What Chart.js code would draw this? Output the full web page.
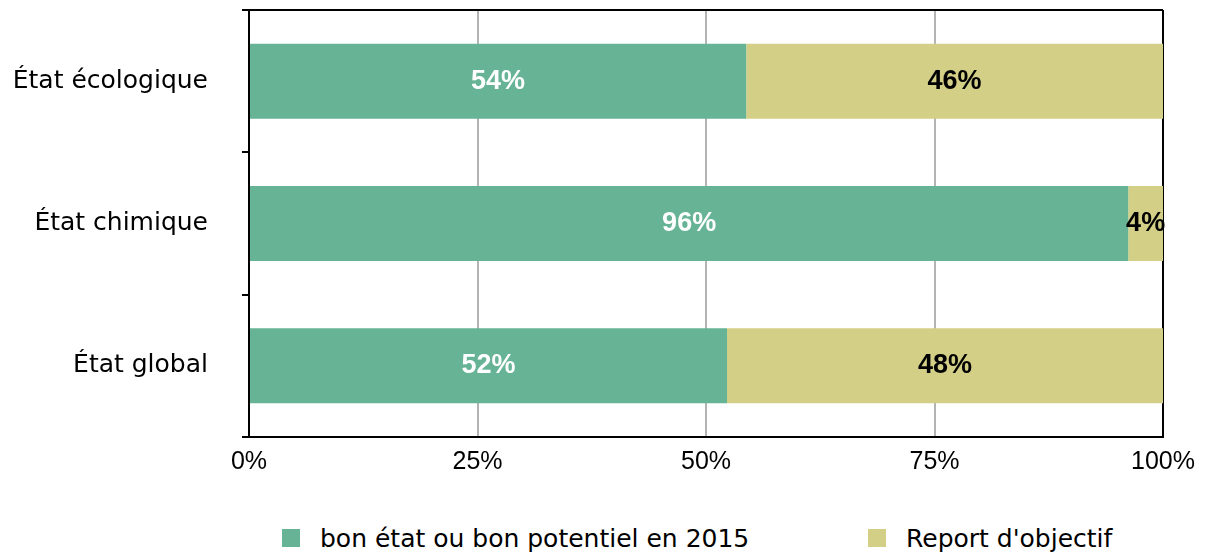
<!DOCTYPE html>
<html>
<head>
<meta charset="utf-8">
<script src="https://cdn.jsdelivr.net/npm/chart.js@4"></script>
<style>
  html, body { margin: 0; padding: 0; background: #fff; }
  #wrap { position: relative; width: 1206px; height: 556px; }
  #chart { position: absolute; left: 0; top: 0; }
  #legend { position: absolute; left: 0; top: 520px; width: 1206px; height: 36px;
    font-family: "DejaVu Sans", sans-serif; font-size: 25px; color: #000; }
  .item { position: absolute; top: 0; display: flex; align-items: center; height: 36px; }
  .box { width: 18px; height: 18px; margin-right: 20px; }
</style>
</head>
<body>
<div id="wrap">
  <canvas id="chart" width="1206" height="490"></canvas>
  <div id="legend"></div>
</div>
<script>
const categories = ['État écologique', 'État chimique', 'État global'];
const bonEtat = [54.4, 96.2, 52.3];
const report = [45.6, 3.8, 47.7];
const bonLabels = ['54%', '96%', '52%'];
const reportLabels = ['46%', '4%', '48%'];
const xTicks = ['0%', '25%', '50%', '75%', '100%'];
const seriesNames = ['bon état ou bon potentiel en 2015', "Report d'objectif"];

const green = '#67b396';
const yellow = '#d3cf86';

// draws the value labels in the middle of each bar segment
const barLabels = {
    id: 'barLabels',
    afterDatasetsDraw(chart) {
        const ctx = chart.ctx;
        ctx.save();
        ctx.font = 'bold 27px "Liberation Sans", Arial, sans-serif';
        ctx.textAlign = 'center';
        ctx.textBaseline = 'middle';
        chart.data.datasets.forEach((ds, di) => {
            const meta = chart.getDatasetMeta(di);
            meta.data.forEach((bar, i) => {
                const cx = (bar.x + bar.base) / 2;
                ctx.fillStyle = di === 0 ? '#fff' : '#000';
                ctx.fillText(ds.texts[i], cx, bar.y);
            });
        });
        ctx.restore();
    }
};

const chart = new Chart(document.getElementById('chart'), {
    type: 'bar',
    data: {
        labels: categories,
        datasets: [
            { label: seriesNames[0], data: bonEtat, texts: bonLabels, backgroundColor: green,
              barPercentage: 0.527, categoryPercentage: 1 },
            { label: seriesNames[1], data: report, texts: reportLabels, backgroundColor: yellow,
              barPercentage: 0.527, categoryPercentage: 1 }
        ]
    },
    options: {
        indexAxis: 'y',
        responsive: false,
        animation: false,
        layout: { padding: { top: 10, right: 43, left: 0, bottom: 0 } },
        plugins: { legend: { display: false }, tooltip: { enabled: false } },
        scales: {
            x: {
                stacked: true, min: 0, max: 100,
                afterFit: s => { s.height = 53; },
                ticks: {
                    stepSize: 25, padding: 10, color: '#000',
                    font: { family: '"Liberation Sans", Arial, sans-serif', size: 25 },
                    callback: (v, i) => xTicks[i]
                },
                grid: {
                    drawTicks: false, lineWidth: 2,
                    color: ctx => (ctx.index === 4 ? '#000' : '#b4b4b4')
                },
                border: { color: '#000', width: 2 }
            },
            y: {
                stacked: true,
                afterFit: s => { s.width = 249; s.paddingTop = 0; s.paddingBottom = 0; },
                ticks: {
                    padding: 34, color: '#000',
                    font: { family: '"DejaVu Sans", sans-serif', size: 25 }
                },
                grid: {
                    offset: true, tickLength: 7, lineWidth: 2, tickColor: '#000',
                    // only the top boundary line is drawn across, the rest are just ticks
                    color: ctx => (ctx.index === 0 ? '#000' : 'rgba(0,0,0,0)')
                },
                border: { color: '#000', width: 2 }
            }
        }
    },
    plugins: [barLabels]
});

// html legend
const legend = document.getElementById('legend');
const legendX = [282, 868];
chart.data.datasets.forEach((ds, i) => {
    const el = document.createElement('div');
    el.className = 'item';
    el.style.left = legendX[i] + 'px';
    el.innerHTML = `<span class="box" style="background:${ds.backgroundColor}"></span><span>${ds.label}</span>`;
    legend.appendChild(el);
});
</script>
</body>
</html>
